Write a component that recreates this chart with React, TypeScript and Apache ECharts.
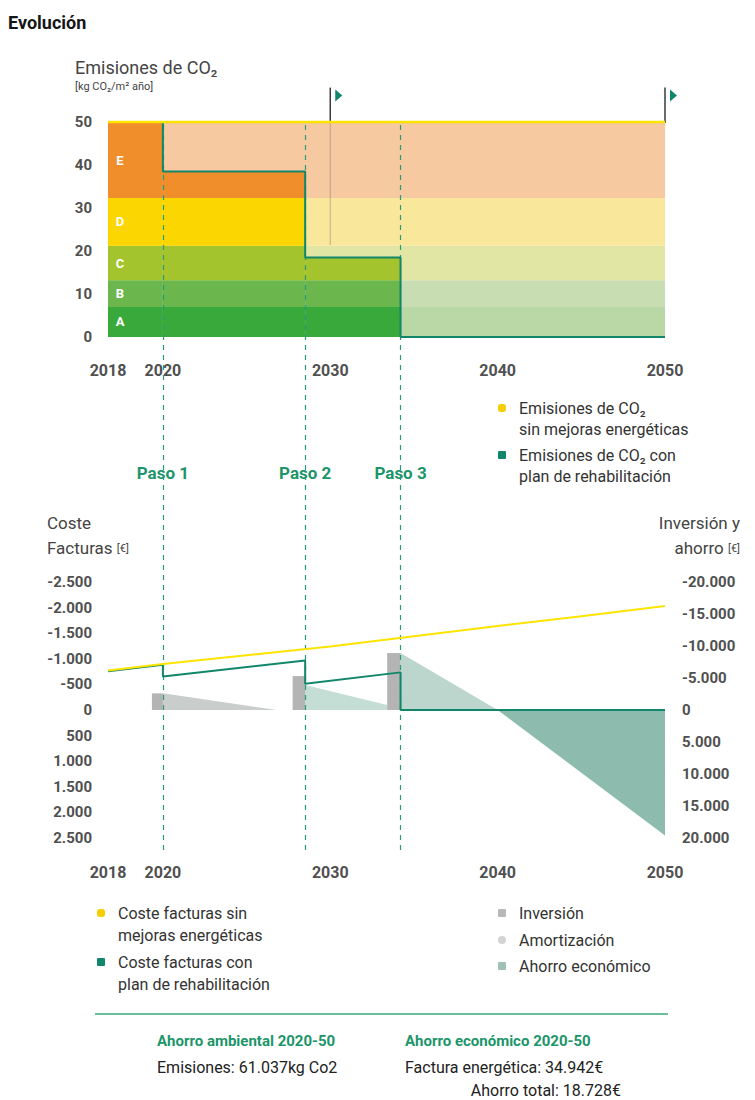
import React, { useEffect, useRef } from "react";
import * as echarts from "echarts";

const FONT = "Roboto, 'Noto Sans', 'DejaVu Sans', sans-serif";

// ---------- X axis (years) ----------
const X_START = 2018;
const X_END = 2050;
const xTickYears = [2018, 2020, 2030, 2040, 2050];
const EARLY_STRETCH = 1.64; // the 2018-2020 stretch is drawn wider in the original
const toX = (year: number) => (year >= 2020 ? year - 2020 : (year - 2020) * EARLY_STRETCH);
const yearLabel = (v: number) => {
  const y = xTickYears.find((yy) => Math.abs(toX(yy) - v) < 0.01);
  return y === undefined ? "" : String(y);
};

// ---------- Emissions chart ----------
const bandNames = ["A", "B", "C", "D", "E"];
const bandLower = [0, 7, 13.2, 21.2, 32.3];
const bandUpper = [7, 13.2, 21.2, 32.3, 50];
const bandStrong = ["#3aa93c", "#6bb74d", "#a3c42c", "#fcd600", "#ef8e2b"];
const bandPale = ["#bad8a6", "#c8deb2", "#e1e6a4", "#f9e79b", "#f6c9a0"];

const stepStart = [2018, 2020, 2028.5, 2034.2];
const stepEnd = [2020, 2028.5, 2034.2, 2050];
const emisConPlan = [50, 38.5, 18.5, 0];
const emisSinYears = [2018, 2050];
const emisSinMejoras = [50, 50];
const flagYears = [2030, 2050];
const flagGuideTo = [21.4, 50];
const FLAG_TOP = 58;

// ---------- Steps ----------
const pasoYears = [2020, 2028.5, 2034.2];
const pasoLabels = ["Paso 1", "Paso 2", "Paso 3"];

// ---------- Cost chart ----------
const costeYears = [2018, 2020, 2025, 2030, 2035, 2040, 2045, 2050];
const costeSinMejoras = [-770, -900, -1070, -1240, -1440, -1640, -1830, -2030];
const planSegStartYear = [2018, 2020, 2028.5, 2034.2];
const planSegEndYear = [2020, 2028.5, 2034.2, 2050];
const planSegStartValue = [-755, -655, -512, 0];
const planSegEndValue = [-885, -965, -735, 0];

const invStart = [2019.6, 2027.75, 2033.4];
const invEnd = [2020, 2028.5, 2034.2];
const invValue = [-2600, -5300, -8900];

const amortStartYear = [2020, 2028.5, 2034.2];
const amortEndYear = [2026.8, 2033.4, 2040];
const amortStartValue = [-2600, -3900, -8900];
const amortEndValue = [0, -800, 0];

const ahorroYears = [2040, 2050];
const ahorroValues = [0, 19600];

// ---------- styles ----------
const TEAL = "#12866a";
const YELLOW = "#ffe400";
const PASO_GREEN = "#1c956a";
const AXIS_TXT = "#505050";
const amortColors = ["#c9cdcb", "#c4ddd5", "#bcd6ce"];
const INV_COLOR = "#b4b4b4";
const AHORRO_COLOR = "#8dbbae";

const fmtThousands = (v: number) => {
  const s = String(Math.abs(Math.round(v))).replace(/\B(?=(\d{3})+(?!\d))/g, ".");
  return (v < 0 ? "-" : "") + s;
};

function buildOption(): any {
  const xMin = toX(X_START);
  const xMax = toX(X_END);
  const gridL = 108;
  const gridR = 90;

  const xAxisBase = (gridIndex: number, show: boolean, margin: number) => ({
    type: "value",
    gridIndex,
    min: xMin,
    max: xMax,
    show,
    axisLine: { show: false },
    axisTick: { show: false },
    splitLine: { show: false },
    axisLabel: {
      show,
      customValues: xTickYears.map(toX),
      formatter: (v: number) => yearLabel(v),
      color: AXIS_TXT,
      fontWeight: "bold",
      fontSize: 16,
      fontFamily: FONT,
      margin,
    },
  });

  const planLine: number[][] = [];
  stepStart.forEach((s, i) => {
    planLine.push([toX(s), emisConPlan[i]]);
    planLine.push([toX(stepEnd[i]), emisConPlan[i]]);
  });

  const strongPieces: number[][] = [];
  stepStart.forEach((s, si) => {
    bandNames.forEach((_, bi) => {
      if (emisConPlan[si] > bandLower[bi]) strongPieces.push([si, bi]);
    });
  });

  const costPlanLine: number[][] = [];
  planSegStartYear.forEach((s, i) => {
    costPlanLine.push([toX(s), planSegStartValue[i]]);
    costPlanLine.push([toX(planSegEndYear[i]), planSegEndValue[i]]);
  });

  const txt = (x: number, y: number, text: string, opts: any = {}) => ({
    type: "text",
    x,
    y,
    silent: true,
    style: {
      text,
      fill: opts.fill || "#333",
      fontSize: opts.fontSize || 16,
      fontWeight: opts.fontWeight || "normal",
      fontFamily: FONT,
      align: opts.align || "left",
      verticalAlign: "middle",
      rich: opts.rich,
    },
  });
  const sq = (x: number, y: number, fill: string, r = 1) => ({
    type: "rect",
    silent: true,
    shape: { x, y, width: 8, height: 8, r },
    style: { fill },
  });

  return {
    animation: false,
    backgroundColor: "#ffffff",
    textStyle: { fontFamily: FONT },
    grid: [
      { left: gridL, right: gridR, top: 122, height: 215 },
      { left: gridL, right: gridR, top: 582, height: 256 },
      { left: gridL, right: gridR, top: 122, height: 728 },
    ],
    xAxis: [xAxisBase(0, true, 25), xAxisBase(1, true, 26), xAxisBase(2, false, 0)],
    yAxis: [
      {
        type: "value",
        gridIndex: 0,
        min: 0,
        max: 50,
        interval: 10,
        axisLine: { show: false },
        axisTick: { show: false },
        splitLine: { show: false },
        axisLabel: { color: AXIS_TXT, fontWeight: "bold", fontSize: 15, margin: 16, fontFamily: FONT },
      },
      {
        type: "value",
        gridIndex: 1,
        position: "left",
        min: -2500,
        max: 2500,
        interval: 500,
        inverse: true,
        axisLine: { show: false },
        axisTick: { show: false },
        splitLine: { show: false },
        axisLabel: {
          color: AXIS_TXT,
          fontWeight: "bold",
          fontSize: 15,
          margin: 16,
          fontFamily: FONT,
          formatter: fmtThousands,
        },
      },
      {
        type: "value",
        gridIndex: 1,
        position: "right",
        min: -20000,
        max: 20000,
        interval: 5000,
        inverse: true,
        axisLine: { show: false },
        axisTick: { show: false },
        splitLine: { show: false },
        axisLabel: {
          color: AXIS_TXT,
          fontWeight: "bold",
          fontSize: 15,
          margin: 17,
          fontFamily: FONT,
          formatter: fmtThousands,
        },
      },
      { type: "value", gridIndex: 2, min: 0, max: 1, show: false },
    ],
    series: [
      {
        type: "custom",
        name: "bands",
        xAxisIndex: 0,
        yAxisIndex: 0,
        z: 1,
        silent: true,
        data: bandNames.map((_, i) => [toX(X_START), bandLower[i]]),
        renderItem: (params: any, api: any) => {
          const i = params.dataIndex;
          const p0 = api.coord([toX(X_START), bandUpper[i]]);
          const p1 = api.coord([toX(X_END), bandLower[i]]);
          return {
            type: "rect",
            shape: { x: p0[0], y: p0[1], width: p1[0] - p0[0], height: p1[1] - p0[1] },
            style: { fill: bandPale[i] },
          };
        },
      },
      {
        type: "custom",
        name: "bandsStrong",
        xAxisIndex: 0,
        yAxisIndex: 0,
        z: 1,
        silent: true,
        data: strongPieces.map(([si, bi]) => [toX(stepStart[si]), bandLower[bi]]),
        renderItem: (params: any, api: any) => {
          const [si, bi] = strongPieces[params.dataIndex];
          const top = Math.min(bandUpper[bi], emisConPlan[si]);
          const p0 = api.coord([toX(stepStart[si]), top]);
          const p1 = api.coord([toX(stepEnd[si]), bandLower[bi]]);
          return {
            type: "rect",
            shape: { x: p0[0], y: p0[1], width: p1[0] - p0[0], height: p1[1] - p0[1] },
            style: { fill: bandStrong[bi] },
          };
        },
      },
      {
        type: "custom",
        name: "bandLetters",
        xAxisIndex: 0,
        yAxisIndex: 0,
        z: 4,
        silent: true,
        data: bandNames.map((_, i) => [toX(X_START), (bandLower[i] + bandUpper[i]) / 2]),
        renderItem: (params: any, api: any) => {
          const i = params.dataIndex;
          const p = api.coord([toX(X_START), (bandLower[i] + bandUpper[i]) / 2]);
          return {
            type: "text",
            x: p[0] + 12,
            y: p[1],
            style: {
              text: bandNames[i],
              fill: "#ffffff",
              fontSize: 13,
              fontWeight: "bold",
              fontFamily: FONT,
              align: "center",
              verticalAlign: "middle",
            },
          };
        },
      },
      {
        type: "custom",
        name: "flags",
        xAxisIndex: 0,
        yAxisIndex: 0,
        z: 4,
        silent: true,
        clip: false,
        data: flagYears.map((y) => [toX(y), 50]),
        renderItem: (params: any, api: any) => {
          const i = params.dataIndex;
          const x = toX(flagYears[i]);
          const pTop = api.coord([x, FLAG_TOP]);
          const p50 = api.coord([x, 50]);
          const pGuide = api.coord([x, flagGuideTo[i]]);
          return {
            type: "group",
            children: [
              {
                type: "line",
                shape: { x1: pGuide[0], y1: pGuide[1], x2: p50[0], y2: p50[1] },
                style: { stroke: "rgba(110,110,110,0.45)", lineWidth: 1 },
              },
              {
                type: "line",
                shape: { x1: pTop[0], y1: pTop[1], x2: p50[0], y2: p50[1] + 1 },
                style: { stroke: "#3a3a3a", lineWidth: 1.5 },
              },
              {
                type: "polygon",
                shape: {
                  points: [
                    [pTop[0] + 5, pTop[1] + 2],
                    [pTop[0] + 12, pTop[1] + 8],
                    [pTop[0] + 5, pTop[1] + 14],
                  ],
                },
                style: { fill: TEAL },
              },
            ],
          };
        },
      },
      {
        type: "line",
        name: "Emisiones de CO2 con plan de rehabilitación",
        xAxisIndex: 0,
        yAxisIndex: 0,
        z: 5,
        clip: false,
        symbol: "none",
        lineStyle: { color: TEAL, width: 2 },
        data: planLine,
      },
      {
        type: "line",
        name: "Emisiones de CO2 sin mejoras energéticas",
        xAxisIndex: 0,
        yAxisIndex: 0,
        z: 6,
        clip: false,
        symbol: "none",
        lineStyle: { color: YELLOW, width: 2.5 },
        data: emisSinYears.map((y, i) => [toX(y), emisSinMejoras[i]]),
      },
      {
        type: "custom",
        name: "Ahorro económico",
        xAxisIndex: 1,
        yAxisIndex: 2,
        z: 2,
        silent: true,
        data: [[toX(ahorroYears[0]), ahorroValues[0]]],
        renderItem: (params: any, api: any) => {
          const pts = ahorroYears.map((y, i) => api.coord([toX(y), ahorroValues[i]]));
          const base = api.coord([toX(ahorroYears[ahorroYears.length - 1]), 0]);
          return {
            type: "polygon",
            shape: { points: [...pts, base] },
            style: { fill: AHORRO_COLOR },
          };
        },
      },
      {
        type: "custom",
        name: "Amortización",
        xAxisIndex: 1,
        yAxisIndex: 2,
        z: 2,
        silent: true,
        data: amortStartYear.map((y, i) => [toX(y), amortStartValue[i]]),
        renderItem: (params: any, api: any) => {
          const i = params.dataIndex;
          const s = toX(amortStartYear[i]);
          const e = toX(amortEndYear[i]);
          return {
            type: "polygon",
            shape: {
              points: [
                api.coord([s, 0]),
                api.coord([s, amortStartValue[i]]),
                api.coord([e, amortEndValue[i]]),
                api.coord([e, 0]),
              ],
            },
            style: { fill: amortColors[i] },
          };
        },
      },
      {
        type: "custom",
        name: "Inversión",
        xAxisIndex: 1,
        yAxisIndex: 2,
        z: 3,
        silent: true,
        data: invStart.map((y, i) => [toX(y), invValue[i]]),
        renderItem: (params: any, api: any) => {
          const i = params.dataIndex;
          const p0 = api.coord([toX(invStart[i]), invValue[i]]);
          const p1 = api.coord([toX(invEnd[i]), 0]);
          return {
            type: "rect",
            shape: {
              x: p0[0],
              y: Math.min(p0[1], p1[1]),
              width: p1[0] - p0[0],
              height: Math.abs(p1[1] - p0[1]),
            },
            style: { fill: INV_COLOR },
          };
        },
      },
      {
        type: "line",
        name: "Coste facturas con plan de rehabilitación",
        xAxisIndex: 1,
        yAxisIndex: 1,
        z: 5,
        clip: false,
        symbol: "none",
        lineStyle: { color: TEAL, width: 2 },
        data: costPlanLine,
      },
      {
        type: "line",
        name: "Coste facturas sin mejoras energéticas",
        xAxisIndex: 1,
        yAxisIndex: 1,
        z: 6,
        clip: false,
        symbol: "none",
        lineStyle: { color: YELLOW, width: 2 },
        data: costeYears.map((y, i) => [toX(y), costeSinMejoras[i]]),
      },
      {
        type: "scatter",
        name: "Pasos",
        xAxisIndex: 2,
        yAxisIndex: 3,
        z: 4,
        silent: true,
        symbolSize: 1,
        itemStyle: { color: "rgba(0,0,0,0)", opacity: 1 },
        data: pasoYears.map((y) => [toX(y), 0.518]),
        label: {
          show: true,
          position: "inside",
          formatter: (p: any) => pasoLabels[p.dataIndex],
          color: PASO_GREEN,
          opacity: 1,
          fontWeight: "bold",
          fontSize: 17,
          fontFamily: FONT,
          backgroundColor: "#ffffff",
          padding: [7, 3],
        },
        markLine: {
          silent: true,
          symbol: ["none", "none"],
          label: { show: false },
          lineStyle: { color: "#2a9a78", type: [5, 5], width: 1.2, opacity: 1 },
          data: pasoYears.map((y) => ({ xAxis: toX(y) })),
        },
      },
    ],
    graphic: [
      txt(8, 22, "Evolución", { fontSize: 18, fontWeight: "bold", fill: "#161616" }),
      txt(75, 67, "Emisiones de CO₂", { fontSize: 18, fill: "#444" }),
      txt(75, 86, "[kg CO₂/m² año]", { fontSize: 11, fill: "#444" }),
      sq(498, 404, "#f5cf00", 3),
      txt(519, 408, "Emisiones de CO₂", { fontSize: 16 }),
      txt(519, 429, "sin mejoras energéticas", { fontSize: 16 }),
      sq(498, 451, TEAL),
      txt(519, 455, "Emisiones de CO₂ con", { fontSize: 16 }),
      txt(519, 476, "plan de rehabilitación", { fontSize: 16 }),
      txt(47, 523, "Coste", { fontSize: 17, fill: "#444" }),
      txt(47, 548, "Facturas {s|[€]}", {
        fontSize: 17,
        fill: "#444",
        rich: { s: { fontSize: 11, fill: "#444", fontFamily: FONT } },
      }),
      txt(740, 523, "Inversión y", { fontSize: 17, fill: "#444", align: "right" }),
      txt(740, 548, "ahorro {s|[€]}", {
        fontSize: 17,
        fill: "#444",
        align: "right",
        rich: { s: { fontSize: 11, fill: "#444", fontFamily: FONT } },
      }),
      sq(97, 909, "#f5cf00", 3),
      txt(118, 913, "Coste facturas sin", { fontSize: 16 }),
      txt(118, 935, "mejoras energéticas", { fontSize: 16 }),
      sq(97, 958, TEAL),
      txt(118, 962, "Coste facturas con", { fontSize: 16 }),
      txt(118, 984, "plan de rehabilitación", { fontSize: 16 }),
      sq(498, 909, "#b8b8b8"),
      txt(519, 913, "Inversión", { fontSize: 16 }),
      sq(498, 936, "#d4d4d4", 4),
      txt(519, 940, "Amortización", { fontSize: 16 }),
      sq(498, 962, "#9fc0b6"),
      txt(519, 966, "Ahorro económico", { fontSize: 16 }),
      {
        type: "line",
        silent: true,
        shape: { x1: 95, y1: 1014, x2: 668, y2: 1014 },
        style: { stroke: "#3aa978", lineWidth: 1.5 },
      },
      txt(157, 1041, "Ahorro ambiental 2020-50", { fontSize: 15, fontWeight: "bold", fill: PASO_GREEN }),
      txt(405, 1041, "Ahorro económico 2020-50", { fontSize: 15, fontWeight: "bold", fill: PASO_GREEN }),
      txt(157, 1067, "Emisiones: 61.037kg Co2", { fontSize: 16, fill: "#222" }),
      txt(405, 1067, "Factura energética: 34.942€", { fontSize: 16, fill: "#222" }),
      txt(621, 1090, "Ahorro total: 18.728€", { fontSize: 16, fill: "#222", align: "right" }),
    ],
  };
}

export default function App() {
  const ref = useRef<HTMLDivElement>(null);
  useEffect(() => {
    if (!ref.current) return;
    const chart = echarts.init(ref.current, null, { renderer: "svg" });
    chart.setOption(buildOption());
    return () => chart.dispose();
  }, []);
  return (
    <div
      ref={ref}
      style={{ position: "fixed", left: 0, top: 0, width: 755, height: 1100, background: "#fff" }}
    />
  );
}
